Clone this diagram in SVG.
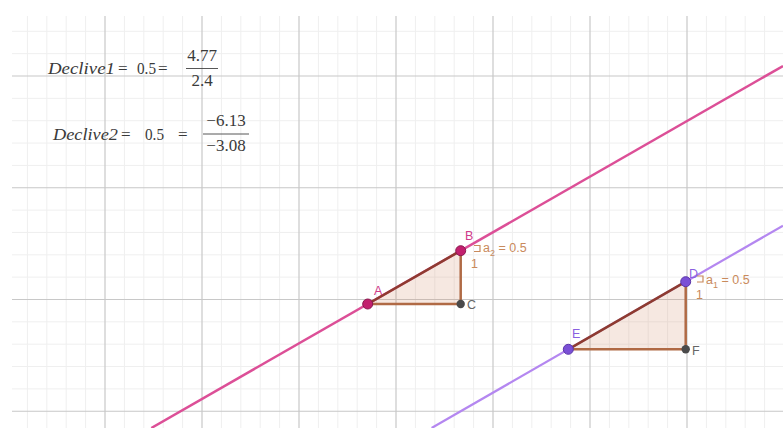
<svg xmlns="http://www.w3.org/2000/svg" width="783" height="428" viewBox="0 0 783 428">
<style>
.minor{stroke:#efefef;stroke-width:1;fill:none}
.major{stroke:#c8c8c8;stroke-width:1.2;fill:none}
.tex{font-family:"Liberation Serif","Times New Roman",serif;font-size:17px;fill:#3a3a3a}
.it{font-style:italic}
.bar{stroke:#444;stroke-width:0.9}
.lbl{font-family:"Liberation Sans",Arial,sans-serif;font-size:12.5px}
.slope{fill:#c98a5c}
.tri{fill:#d08a6a;fill-opacity:0.2;stroke:none}
.leg{stroke:#b06a45;stroke-width:2.5;fill:none}
.hyp{stroke:#8e3b30;stroke-width:2.5;fill:none}
</style>
<rect width="783" height="428" fill="#ffffff"/>
<g id="grid">
<path class="minor" d="M27.4,16V428M46.8,16V428M66.2,16V428M85.6,16V428M124.4,16V428M143.8,16V428M163.2,16V428M182.6,16V428M221.4,16V428M240.8,16V428M260.2,16V428M279.6,16V428M318.4,16V428M337.8,16V428M357.2,16V428M376.6,16V428M415.4,16V428M434.8,16V428M454.2,16V428M473.6,16V428M512.4,16V428M531.8,16V428M551.2,16V428M570.6,16V428M609.4,16V428M628.8,16V428M648.2,16V428M667.6,16V428M706.4,16V428M725.8,16V428M745.2,16V428M764.6,16V428M12,31.3H783M12,53.65H783M12,98.35H783M12,120.7H783M12,143.05H783M12,165.4H783M12,210.1H783M12,232.45H783M12,254.8H783M12,277.15H783M12,321.85H783M12,344.2H783M12,366.55H783M12,388.9H783"/>
<path class="major" d="M105,16V428M202,16V428M299,16V428M396,16V428M493,16V428M590,16V428M687,16V428M12,76H783M12,187.75H783M12,299.5H783M12,411.25H783"/>
</g>
<g id="formula1">
<text class="tex it" x="48" y="74" textLength="67" lengthAdjust="spacingAndGlyphs">Declive1</text>
<text class="tex" x="118" y="74">=</text>
<text class="tex" x="137" y="74" textLength="19" lengthAdjust="spacingAndGlyphs">0.5</text>
<text class="tex" x="158" y="74">=</text>
<text class="tex" x="202" y="61" text-anchor="middle">4.77</text>
<line class="bar" x1="186" y1="68.5" x2="218" y2="68.5"/>
<text class="tex" x="202" y="86" text-anchor="middle">2.4</text>
</g>
<g id="formula2">
<text class="tex it" x="53" y="140" textLength="65" lengthAdjust="spacingAndGlyphs">Declive2</text>
<text class="tex" x="121" y="140">=</text>
<text class="tex" x="145" y="140" textLength="19" lengthAdjust="spacingAndGlyphs">0.5</text>
<text class="tex" x="178" y="140">=</text>
<text class="tex" x="226" y="126" text-anchor="middle">−6.13</text>
<line class="bar" x1="203" y1="134" x2="249" y2="134"/>
<text class="tex" x="226" y="151" text-anchor="middle">−3.08</text>
</g>
<g id="connectors">
<line id="line-f" x1="151.3" y1="428" x2="783" y2="66" stroke="#dc4f97" stroke-width="2.5"/>
<line id="line-g" x1="431.6" y1="428" x2="783" y2="225.7" stroke="#b487f0" stroke-width="2.2"/>
</g>
<g id="triangle-ABC">
<polygon class="tri" points="367.7,304 460.7,250.7 460.7,304"/>
<path class="leg" d="M367.7,304H460.7V250.7"/>
<line class="hyp" x1="367.7" y1="304" x2="460.7" y2="250.7"/>
<path d="M474,245.5H480V251.5H474" stroke="#c98a5c" stroke-width="1.2" fill="none"/>
<text class="lbl slope" x="483" y="252">a<tspan font-size="9" dy="4">2</tspan><tspan dy="-4"> = 0.5</tspan></text>
<text class="lbl slope" x="471" y="268">1</text>
</g>
<g id="triangle-DEF">
<polygon class="tri" points="568.3,349.3 685.7,281.7 685.7,349.3"/>
<path class="leg" d="M568.3,349.3H685.7V281.7"/>
<line class="hyp" x1="568.3" y1="349.3" x2="685.7" y2="281.7"/>
<path d="M697,276H703V282H697" stroke="#c98a5c" stroke-width="1.2" fill="none"/>
<text class="lbl slope" x="706" y="284">a<tspan font-size="9" dy="4">1</tspan><tspan dy="-4"> = 0.5</tspan></text>
<text class="lbl slope" x="696" y="299">1</text>
</g>
<g id="point-A">
<circle cx="367.7" cy="304" r="5" fill="#c2206e" stroke="#8a1a4e" stroke-width="1"/>
<text class="lbl" x="374" y="295" fill="#d03a8a">A</text>
</g>
<g id="point-B">
<circle cx="460.7" cy="250.7" r="5" fill="#c2206e" stroke="#8a1a4e" stroke-width="1"/>
<text class="lbl" x="465" y="240" fill="#d03a8a">B</text>
</g>
<g id="point-C">
<circle cx="460.7" cy="304" r="4.2" fill="#4a4a4a"/>
<text class="lbl" x="467" y="308.5" fill="#666">C</text>
</g>
<g id="point-D">
<circle cx="685.7" cy="281.7" r="5" fill="#7a4fd6" stroke="#5a35a8" stroke-width="1"/>
<text class="lbl" x="689" y="278" fill="#8a60e0">D</text>
</g>
<g id="point-E">
<circle cx="568.3" cy="349.3" r="5" fill="#7a4fd6" stroke="#5a35a8" stroke-width="1"/>
<text class="lbl" x="572" y="338" fill="#8a60e0">E</text>
</g>
<g id="point-F">
<circle cx="685.7" cy="349.3" r="4.2" fill="#4a4a4a"/>
<text class="lbl" x="692" y="355" fill="#666">F</text>
</g>
</svg>
